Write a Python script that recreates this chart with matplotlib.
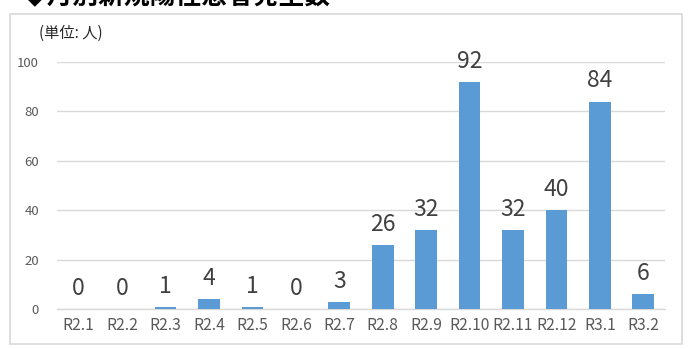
import matplotlib
matplotlib.use("Agg")
import matplotlib.pyplot as plt
from matplotlib.patches import Rectangle

plt.rcParams['font.family'] = ['Noto Sans CJK JP', 'DejaVu Sans']

# 月別データ
months = ['R2.1', 'R2.2', 'R2.3', 'R2.4', 'R2.5', 'R2.6', 'R2.7',
          'R2.8', 'R2.9', 'R2.10', 'R2.11', 'R2.12', 'R3.1', 'R3.2']
counts = [0, 0, 1, 4, 1, 0, 3, 26, 32, 92, 32, 40, 84, 6]
yticks = [0, 20, 40, 60, 80, 100]

title = '◆月別新規陽性患者発生数'
unit_label = '(単位: 人)'

W, H = 688, 349
fig = plt.figure(figsize=(W / 100, H / 100), dpi=100)

# 外枠
fig.patches.append(Rectangle((10 / W, 5 / H), 672 / W, 330 / H, transform=fig.transFigure,
                             fill=False, edgecolor='#D9D9D9', linewidth=1.2))

# 上端で見切れたタイトル
fig.text(22 / W, 1 - 10 / H, title, fontsize=18.5, fontweight='bold', color='black',
         ha='left', va='bottom')

ax = fig.add_axes([57 / W, 40 / H, 608 / W, 247 / H])
x = range(len(months))
ax.bar(x, counts, width=0.5, color='#5B9BD5', zorder=3)

ax.set_xlim(-0.5, len(months) - 0.5)
ax.set_ylim(0, 100)
ax.set_yticks(yticks)
ax.set_xticks(list(x))
ax.set_xticklabels(months)
ax.grid(axis='y', color='#D9D9D9', linewidth=1, zorder=0)
for s in ['top', 'right', 'left']:
    ax.spines[s].set_visible(False)
ax.spines['bottom'].set_color('#D9D9D9')
ax.spines['bottom'].set_linewidth(1)
ax.tick_params(axis='both', length=0)
ax.tick_params(axis='y', labelsize=9.5, labelcolor='#595959', pad=13)
ax.tick_params(axis='x', labelsize=11.3, labelcolor='#595959', pad=6)

for i, v in enumerate(counts):
    ax.annotate(str(v), (i, v), xytext=(0, 6.5), textcoords='offset points',
                ha='center', va='bottom', fontsize=16.5, color='#404040')

fig.text(39 / W, 1 - 33 / H, unit_label, fontsize=11, color='#262626', ha='left', va='center')

fig.savefig('out.png', dpi=100)
